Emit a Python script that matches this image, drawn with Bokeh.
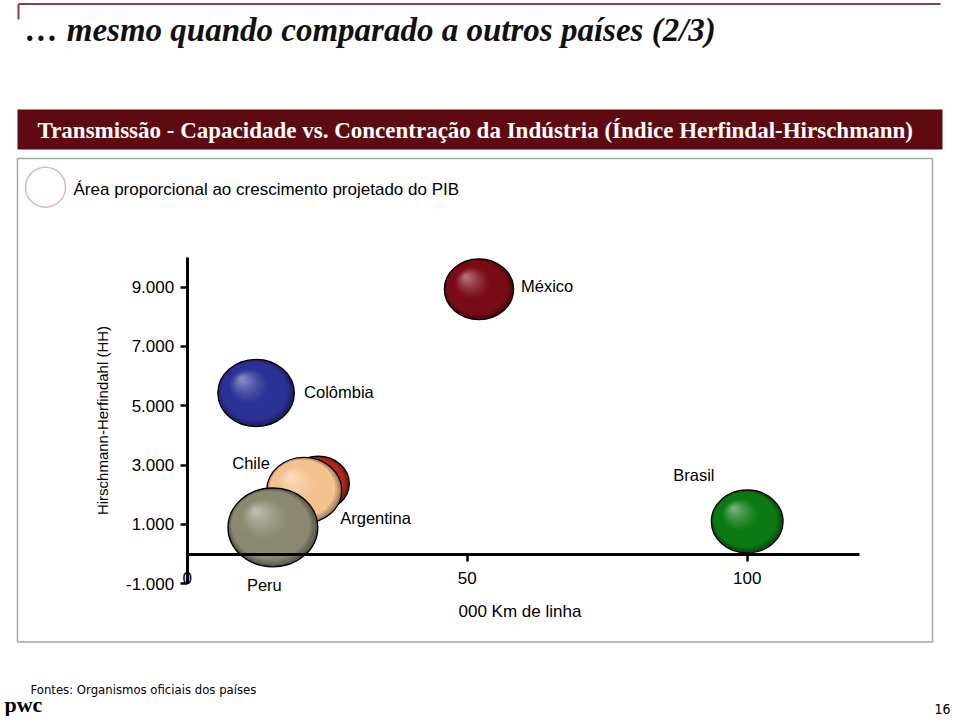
import numpy as np
from bokeh.plotting import figure
from bokeh.models import Range1d, LinearAxis, FixedTicker, ColumnDataSource, Label
from bokeh.core.properties import value
from bokeh.embed import file_html
from bokeh.resources import INLINE

# ---------------- data ----------------
countries = ["Chile", "Argentina", "Peru", "Colômbia", "México", "Brasil"]
km_linha = [23.4, 20.9, 15.3, 12.3, 52.1, 100.0]        # 000 Km de linha
hhi = [2380, 2150, 900, 5430, 8930, 1100]               # Hirschmann-Herfindahl
pib_growth = [3.3, 4.8, 6.9, 5.0, 4.1, 4.4]             # bubble area ~ crescimento do PIB
bubble_colors = ["#b3281c", "#f4c28e", "#8b8972", "#2c3295", "#7a0c17", "#0c7a14"]

y_ticks = [-1000, 1000, 3000, 5000, 7000, 9000]
y_tick_labels = ["-1.000", "1.000", "3.000", "5.000", "7.000", "9.000"]
x_ticks = [0, 50, 100]
x_tick_labels = ["0", "50", "100"]

title = "… mesmo quando comparado a outros países (2/3)"
banner = "Transmissão - Capacidade vs. Concentração da Indústria (Índice Herfindal-Hirschmann)"
legend_text = "Área proporcional ao crescimento projetado do PIB"
y_label = "Hirschmann-Herfindahl (HH)"
x_label = "000 Km de linha"
source_text = "Fontes: Organismos oficiais dos países"
page_no = "16"

# ---------------- styles / layout ----------------
# label offsets from bubble centre (screen px, y down)
label_dx = [-86, 36, -26, 48, 42, -74]
label_dy = [-21, 28, 58, -1, -3, -46]

W, H = 952, 716
OFF = 0
X0, SX = 186.7, 5.6          # picture px of x=0, px per unit
Y0, SY = 553.6, 0.02966      # picture px of y=0, px per unit


def px(xp):
    return (xp - X0) / SX


def py(yp):
    return (Y0 - yp) / SY


def hex2rgb(c):
    c = c.lstrip("#")
    return np.array([int(c[i:i + 2], 16) for i in (0, 2, 4)], dtype=float)


def mix(c1, c2, t):
    a, b = hex2rgb(c1), hex2rgb(c2)
    r = a + (b - a) * t
    return "#%02x%02x%02x" % tuple(int(round(v)) for v in r)


SANS = "Liberation Sans"
SERIF = "Liberation Serif"
NARROW = "'DejaVu Sans Condensed', 'Liberation Sans', sans-serif"

p = figure(width=W, height=H,
           x_range=Range1d(px(OFF), px(OFF + W)),
           y_range=Range1d(py(OFF + H), py(OFF)),
           x_axis_type=None, y_axis_type=None,
           toolbar_location=None, output_backend="svg", min_border=0)
p.outline_line_color = None
p.background_fill_color = "white"
p.border_fill_color = "white"

# ---- header ----
p.line([px(18), px(940)], [py(3.5), py(3.5)], line_color="#8c3c4c", line_width=2)
p.line([px(18), px(18)], [py(3.5), py(19)], line_color="#8c3c4c", line_width=2)
p.add_layout(Label(x=px(25), y=py(29), text=title, text_font=SERIF,
                   text_font_style="bold italic", text_font_size="33px",
                   text_color="#111111", text_baseline="middle"))

p.quad(left=px(17), right=px(942), top=py(109), bottom=py(149),
       fill_color="#5f0a10", line_color=None)
p.add_layout(Label(x=px(37), y=py(130), text=banner, text_font=SERIF,
                   text_font_style="bold", text_font_size="23px",
                   text_color="white", text_baseline="middle"))

# ---- panel box ----
p.quad(left=px(17), right=px(932), top=py(158), bottom=py(641.5),
       fill_color=None, line_color="#a6a6a6", line_width=1.5)
p.ellipse(x=[px(45)], y=[py(186.7)], width=40, height=40,
          width_units="screen", height_units="screen",
          fill_color=None, line_color="#e3b5b5", line_width=1.5)
p.add_layout(Label(x=px(73), y=py(189), text=legend_text, text_font=SANS,
                   text_font_size="17px", text_color="black", text_baseline="middle"))

# ---- bubbles (shaded spheres) ----
K, ASPECT, N = 30.0, 1.14, 24
bx, by, bw, bh, bc, bla = [], [], [], [], [], []
for xi, yi, g, col in zip(km_linha, hhi, pib_growth, bubble_colors):
    h = K * np.sqrt(g)
    w = ASPECT * h
    edge = mix(col, "#000000", 0.35)
    light = mix(col, "#ffffff", 0.42)
    for i, t in enumerate(np.linspace(0, 0.93, N)):
        s = 1 - t
        bx.append(xi + (-0.20 * w * t) / SX)
        by.append(yi + (0.22 * h * t) / SY)
        bw.append(w * s)
        bh.append(h * s)
        if t < 0.12:
            c = mix(edge, col, t / 0.12)
        elif t < 0.45:
            c = col
        else:
            c = mix(col, light, ((t - 0.45) / 0.48) ** 1.3)
        bc.append(c)
        bla.append(1.0 if i == 0 else 0.0)

bsrc = ColumnDataSource(dict(x=bx, y=by, w=bw, h=bh, c=bc, la=bla))
p.ellipse(x="x", y="y", width="w", height="h", width_units="screen",
          height_units="screen", fill_color="c", line_color="black",
          line_alpha="la", line_width=1.3, source=bsrc)

lsrc = ColumnDataSource(dict(x=km_linha, y=hhi, t=countries, dx=label_dx, dy=label_dy))
p.text(x="x", y="y", text="t", x_offset="dx", y_offset="dy", source=lsrc,
       text_font=value(SANS), text_font_size="16.5px", text_color="black",
       text_align="left", text_baseline="middle")

# ---- axes ----
yaxis = LinearAxis(fixed_location=0, bounds=(-1000, 10000),
                   ticker=FixedTicker(ticks=y_ticks),
                   major_label_overrides={t: l for t, l in zip(y_ticks, y_tick_labels)})
xaxis = LinearAxis(fixed_location=0, bounds=(0, 120),
                   ticker=FixedTicker(ticks=x_ticks),
                   major_label_overrides={t: l for t, l in zip(x_ticks, x_tick_labels)})
for ax in (yaxis, xaxis):
    ax.axis_line_width = 3
    ax.axis_line_color = "black"
    ax.major_tick_line_width = 2.5
    ax.major_tick_line_color = "black"
    ax.major_tick_in = 0
    ax.major_tick_out = 7
    ax.minor_tick_line_color = None
    ax.major_label_text_font = SANS
    ax.major_label_text_font_size = "17px"
    ax.major_label_text_color = "black"
yaxis.major_label_standoff = 6
xaxis.major_label_standoff = 11
p.add_layout(yaxis, "left")
p.add_layout(xaxis, "below")

p.add_layout(Label(x=px(102), y=py(420), text=y_label, angle=np.pi / 2,
                   text_font=SANS, text_font_size="15px", text_color="black",
                   text_align="center", text_baseline="middle"))
p.add_layout(Label(x=px(458), y=py(611), text=x_label, text_font=SANS,
                   text_font_size="17px", text_color="black", text_baseline="middle"))

# ---- footer ----
p.add_layout(Label(x=px(30), y=py(689), text=source_text,
                   text_font=NARROW, text_font_size="13px",
                   text_color="black", text_baseline="middle"))
p.add_layout(Label(x=px(4), y=py(704), text="pwc", text_font=SERIF,
                   text_font_style="bold", text_font_size="22px",
                   text_color="black", text_baseline="middle"))
p.add_layout(Label(x=px(950), y=py(708), text=page_no,
                   text_font=NARROW, text_font_size="14px",
                   text_color="black", text_align="right", text_baseline="middle"))

open("out.html", "w").write(file_html(p, INLINE))
